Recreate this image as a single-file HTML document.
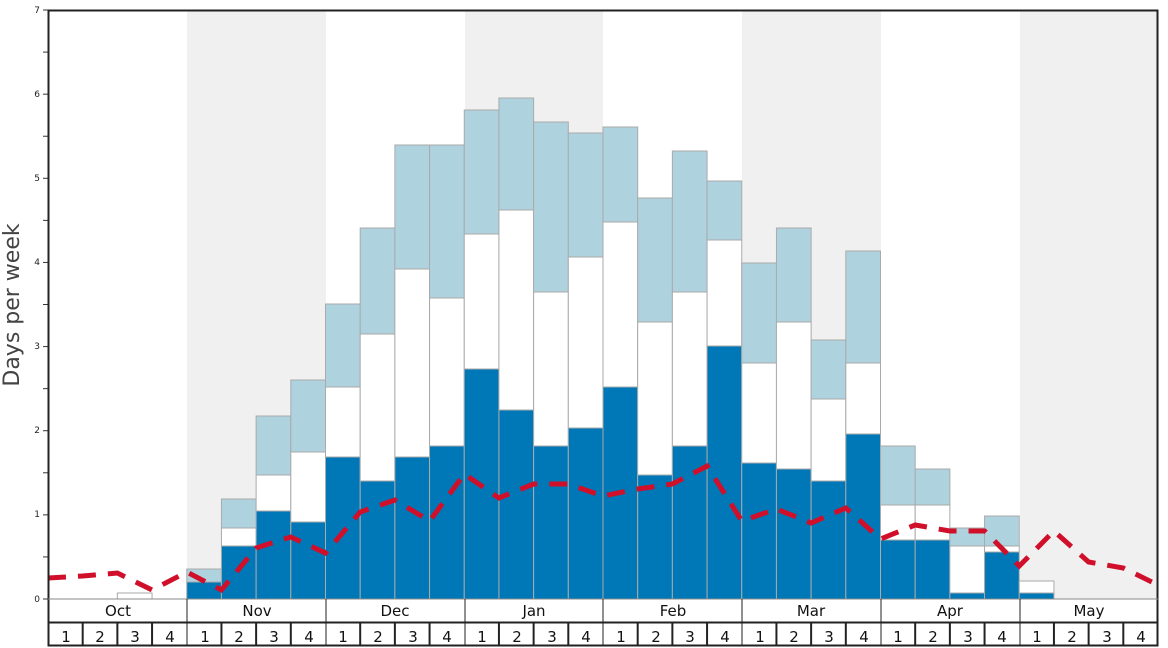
<!DOCTYPE html>
<html><head><meta charset="utf-8">
<style>
html,body{margin:0;padding:0;background:#fff;}
svg{display:block;font-family:"DejaVu Sans","Liberation Sans",sans-serif;}
</style></head>
<body>
<svg id="c" width="1168" height="648" viewBox="0 0 1168 648" xmlns="http://www.w3.org/2000/svg">
<rect x="0" y="0" width="1168" height="648" fill="#fff"/>
<rect x="187" y="10" width="139" height="589" fill="#f0f0f0"/>
<rect x="465" y="10" width="138" height="589" fill="#f0f0f0"/>
<rect x="742" y="10" width="139" height="589" fill="#f0f0f0"/>
<rect x="1020" y="10" width="138" height="589" fill="#f0f0f0"/>
<g id="bars"></g>
<polyline id="line" fill="none" stroke="#d0102a" stroke-width="5" stroke-dasharray="18,12" points=""/>
<g font-size="9" fill="#222" text-anchor="end">
<text x="40" y="13">7</text><text x="40" y="97">6</text><text x="40" y="181">5</text><text x="40" y="265">4</text>
<text x="40" y="349">3</text><text x="40" y="433">2</text><text x="40" y="517">1</text><text x="40" y="602">0</text>
</g>
<g id="ticks" stroke="#333" stroke-width="1"></g>
<text transform="translate(19,305) rotate(-90)" font-size="22" fill="#444" text-anchor="middle">Days per week</text>
<g stroke="#222" fill="none">
<rect x="48.5" y="10.5" width="1109" height="635" stroke-width="2"/>
<line x1="48" y1="599" x2="1158" y2="599" stroke="#888"/>
<line x1="48" y1="622.5" x2="1158" y2="622.5" stroke-width="2"/>
<line x1="187" y1="599" x2="187" y2="646"/><line x1="326" y1="599" x2="326" y2="646"/>
<line x1="465" y1="599" x2="465" y2="646"/><line x1="603" y1="599" x2="603" y2="646"/>
<line x1="742" y1="599" x2="742" y2="646"/><line x1="881" y1="599" x2="881" y2="646"/>
<line x1="1020" y1="599" x2="1020" y2="646"/>
</g>
<g id="wk" stroke="#222"></g>
<g font-size="15" fill="#111" text-anchor="middle">
<text x="118" y="616">Oct</text><text x="257" y="616">Nov</text><text x="395" y="616">Dec</text><text x="534" y="616">Jan</text>
<text x="673" y="616">Feb</text><text x="811" y="616">Mar</text><text x="950" y="616">Apr</text><text x="1089" y="616">May</text>
</g>
<g font-size="15" fill="#111" text-anchor="middle">
<text x="66" y="642">1</text><text x="100" y="642">2</text><text x="135" y="642">3</text><text x="170" y="642">4</text>
<text x="205" y="642">1</text><text x="239" y="642">2</text><text x="274" y="642">3</text><text x="309" y="642">4</text>
<text x="343" y="642">1</text><text x="378" y="642">2</text><text x="413" y="642">3</text><text x="447" y="642">4</text>
<text x="482" y="642">1</text><text x="517" y="642">2</text><text x="552" y="642">3</text><text x="586" y="642">4</text>
<text x="621" y="642">1</text><text x="656" y="642">2</text><text x="690" y="642">3</text><text x="725" y="642">4</text>
<text x="760" y="642">1</text><text x="794" y="642">2</text><text x="829" y="642">3</text><text x="864" y="642">4</text>
<text x="898" y="642">1</text><text x="933" y="642">2</text><text x="968" y="642">3</text><text x="1002" y="642">4</text>
<text x="1037" y="642">1</text><text x="1072" y="642">2</text><text x="1107" y="642">3</text><text x="1141" y="642">4</text>
</g>
</svg>
<script>
var NS="http://www.w3.org/2000/svg";
function el(p,t,a){var e=document.createElementNS(NS,t);for(var k in a)e.setAttribute(k,a[k]);document.getElementById(p).appendChild(e);}
var W=(1158-48)/32;
// [dark top, white top, light top] in pixel y (599=0)
var d=[null,null,[599,593,593],null,
[582,582,569],[546,528,499],[511,475,416],[522,452,380],
[457,387,304],[481,334,228],[457,269,145],[446,298,145],
[369,234,110],[410,210,98],[446,292,122],[428,257,133],
[387,222,127],[475,322,198],[446,292,151],[346,240,181],
[463,363,263],[469,322,228],[481,399,340],[434,363,251],
[540,505,446],[540,505,469],[593,546,528],[552,546,516],
[593,581,581],null,null,null];
for(var i=0;i<32;i++){var b=d[i];if(!b)continue;var x=48+i*W;
 if(b[2]<b[1])el("bars","rect",{x:x,y:b[2],width:W,height:b[1]-b[2],fill:"#aed3df",stroke:"#aaa"});
 if(b[1]<b[0])el("bars","rect",{x:x,y:b[1],width:W,height:b[0]-b[1],fill:"#fff",stroke:"#aaa"});
 if(b[0]<599)el("bars","rect",{x:x,y:b[0],width:W,height:599-b[0],fill:"#0077b6",stroke:"#aaa"});}
var ly=[578,576,573,590,572,590,548,537,553,512,500,521,474,498,484,484,496,489,484,466,521,509,523,508,539,525,531,531,566,531,562,568,585];
var pts=[];for(var i=0;i<ly.length;i++)pts.push((48+i*W).toFixed(1)+","+ly[i]);
document.getElementById("line").setAttribute("points",pts.join(" "));
for(var v=0;v<=14;v++){var y=599-v*84.14/2;el("ticks","line",{x1:43,x2:48,y1:y,y2:y});}
for(var i=1;i<32;i++){if(i%4==0)continue;var x=48+i*W;el("wk","line",{x1:x,x2:x,y1:622,y2:646,"stroke-width":2});}
</script>
</body></html>
